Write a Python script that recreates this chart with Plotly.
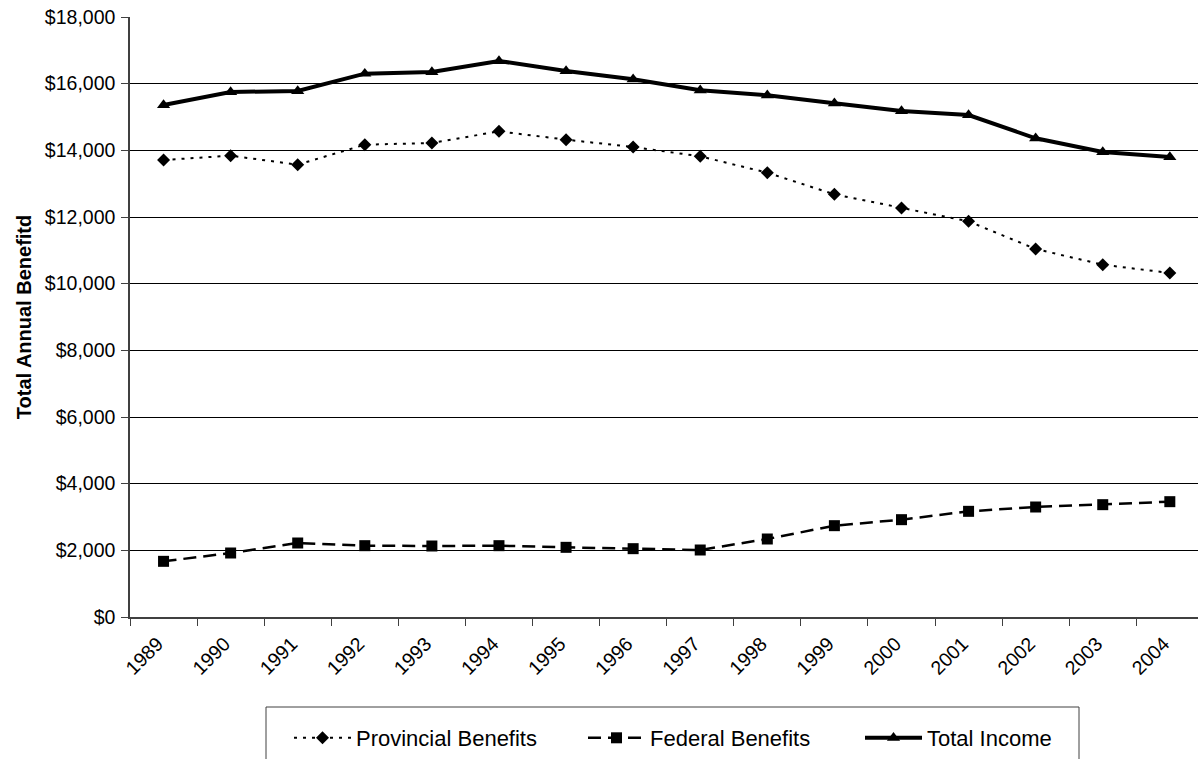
import plotly.graph_objects as go

# Annual benefit amounts by year
years = ["1989", "1990", "1991", "1992", "1993", "1994", "1995", "1996",
         "1997", "1998", "1999", "2000", "2001", "2002", "2003", "2004"]
provincial = [13710, 13840, 13570, 14170, 14220, 14570, 14320, 14100,
              13820, 13330, 12680, 12270, 11870, 11040, 10570, 10320]
federal = [1670, 1920, 2220, 2140, 2130, 2140, 2090, 2050,
           2010, 2340, 2740, 2920, 3170, 3300, 3370, 3460]
total = [15360, 15750, 15780, 16300, 16350, 16680, 16380, 16130,
         15800, 15650, 15410, 15180, 15060, 14360, 13950, 13800]

FONT = "Liberation Sans, Arial, sans-serif"
W, H = 1198, 759
ML, MR, MT, MB = 130, 0, 17, 142

fig = go.Figure()

fig.add_trace(go.Scatter(
    x=years, y=provincial, name="Provincial Benefits", mode="lines+markers",
    line=dict(color="black", width=2, dash="3px,6px"),
    marker=dict(symbol="diamond", size=10, color="black"),
    legendwidth=222,
))
fig.add_trace(go.Scatter(
    x=years, y=federal, name="Federal Benefits", mode="lines+markers",
    line=dict(color="black", width=2.5, dash="13px,7px"),
    marker=dict(symbol="square", size=11, color="black"),
    legendwidth=205,
))
fig.add_trace(go.Scatter(
    x=years, y=total, name="Total Income", mode="lines+markers",
    line=dict(color="black", width=4),
    marker=dict(symbol="triangle-up", size=11.5, color="black"),
    legendwidth=128,
))

plot_w = W - ML - MR
plot_h = H - MT - MB


def px_x(p):
    return (p - ML) / plot_w


def px_y(p):
    return (H - MB - p) / plot_h


# Legend frame
fig.add_shape(
    type="rect", xref="paper", yref="paper",
    x0=px_x(266), x1=px_x(1079), y0=px_y(707), y1=px_y(775),
    line=dict(color="#404040", width=1), fillcolor="rgba(0,0,0,0)",
)

fig.update_layout(
    width=W, height=H,
    margin=dict(l=ML, r=MR, t=MT, b=MB, pad=0),
    paper_bgcolor="white", plot_bgcolor="white",
    font=dict(family=FONT, color="black"),
    showlegend=True,
    legend=dict(
        orientation="h", x=px_x(289), xanchor="left",
        y=px_y(717), yanchor="top",
        font=dict(family=FONT, size=22, color="black"),
        bgcolor="rgba(0,0,0,0)", borderwidth=0,
        itemwidth=57, traceorder="normal",
    ),
    xaxis=dict(
        type="category", range=[-0.5, 15.42],
        tickson="boundaries", ticks="outside", ticklen=7, tickwidth=1,
        tickcolor="#404040",
        showline=True, linecolor="#404040", linewidth=1.5,
        showgrid=False, zeroline=False,
        tickangle=-45, ticklabelstandoff=6, ticklabelshift=-6,
        tickfont=dict(family=FONT, size=19.5, color="black"),
    ),
    yaxis=dict(
        range=[0, 18000], dtick=2000, tickformat="$,.0f",
        ticks="outside", ticklen=7, tickwidth=1, tickcolor="#404040",
        showline=True, linecolor="#404040", linewidth=1.5,
        showgrid=True, gridcolor="black", gridwidth=1,
        zeroline=False, ticklabelstandoff=2,
        tickfont=dict(family=FONT, size=19.5, color="black"),
        title=dict(text="<b>Total Annual Benefitd</b>",
                   font=dict(family=FONT, size=20, color="black"),
                   standoff=8),
    ),
)

fig.write_html("out.html")
